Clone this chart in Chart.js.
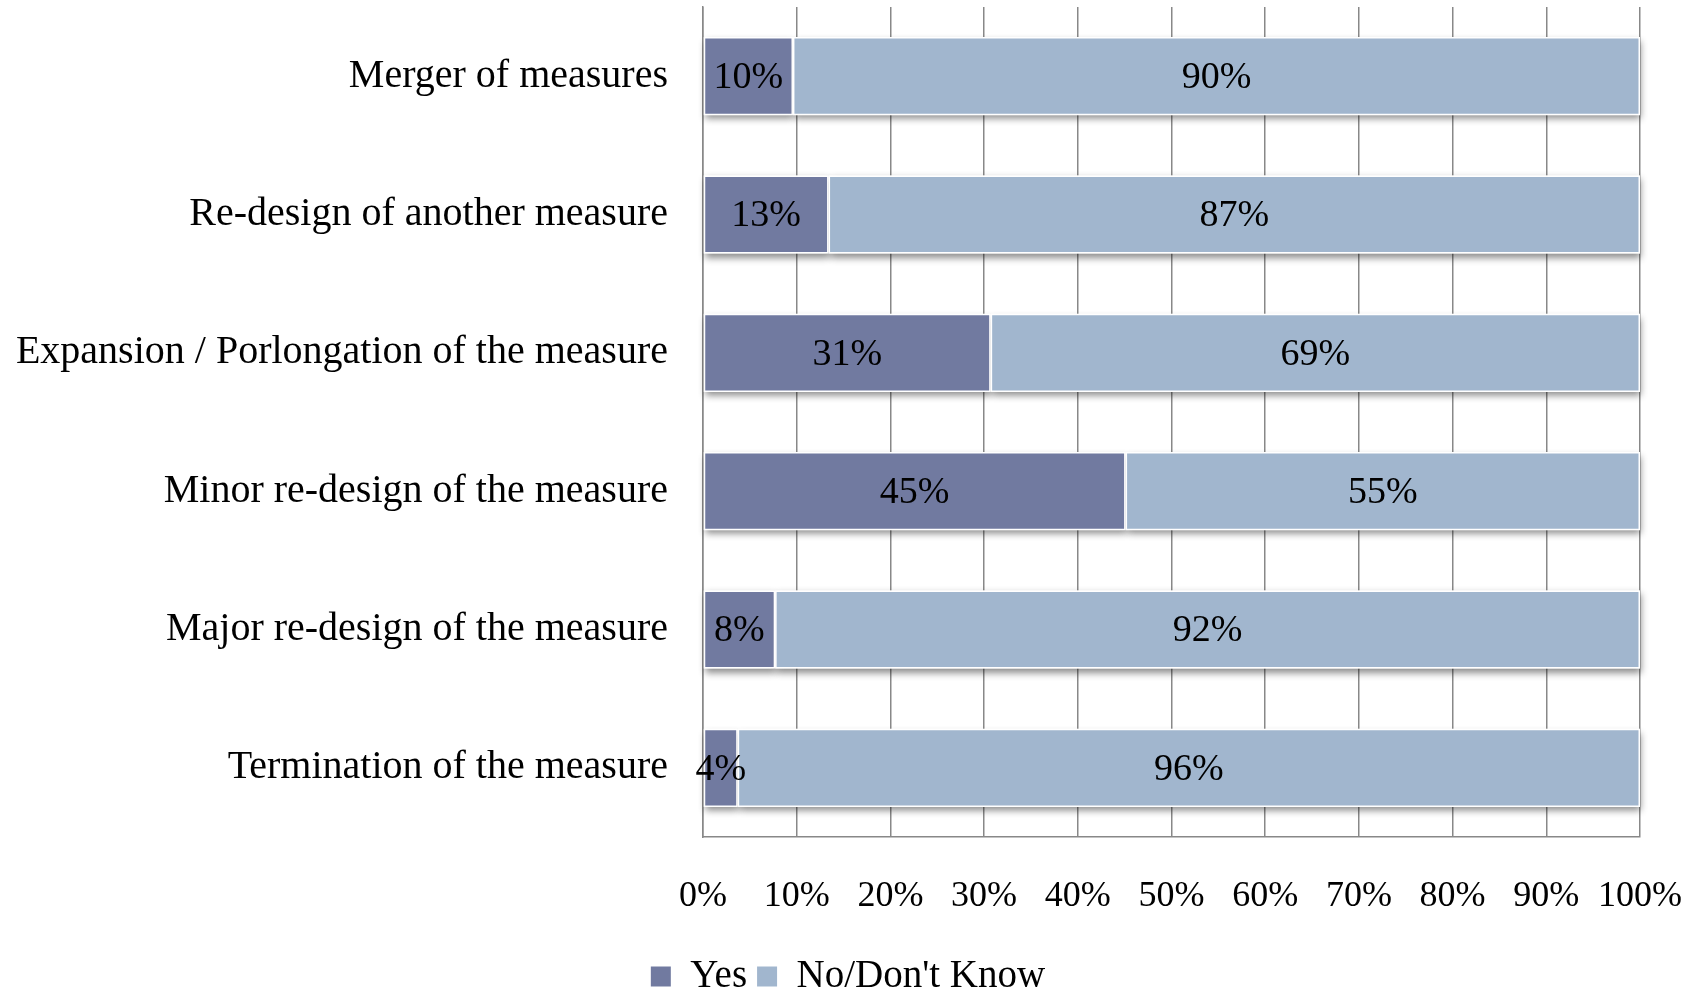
<!DOCTYPE html>
<html>
<head>
<meta charset="utf-8">
<script src="https://cdn.jsdelivr.net/npm/chart.js@4/dist/chart.umd.min.js"></script>
<style>
  html, body { margin: 0; padding: 0; background: #ffffff; overflow: hidden; }
  #wrap { width: 1696px; height: 990px; overflow: hidden; }
  canvas { display: block; }
</style>
</head>
<body>
<div id="wrap"><canvas id="chart" width="1696" height="1006"></canvas></div>
<script>
const categories = [
  "Merger of measures",
  "Re-design of another measure",
  "Expansion / Porlongation of the measure",
  "Minor re-design of the measure",
  "Major re-design of the measure",
  "Termination of the measure"
];
const seriesNames = ["Yes", "No/Don't Know"];
const yesValues = [9.6, 13.4, 30.7, 45.1, 7.7, 3.7];
const noValues = [90.4, 86.6, 69.3, 54.9, 92.3, 96.3];
const xTickValues = [0, 10, 20, 30, 40, 50, 60, 70, 80, 90, 100];

const FONT = "'Liberation Serif', 'Times New Roman', serif";

const shadowPlugin = {
  id: 'barShadow',
  beforeDatasetsDraw(chart) {
    const ctx = chart.ctx;
    ctx.save();
    ctx.shadowColor = 'rgba(0,0,0,0.45)';
    ctx.shadowBlur = 7;
    ctx.shadowOffsetX = 1;
    ctx.shadowOffsetY = 4;
    ctx.fillStyle = '#ffffff';
    chart.data.datasets.forEach((ds, i) => {
      const meta = chart.getDatasetMeta(i);
      meta.data.forEach(el => {
        const p = el.getProps(['x', 'y', 'base', 'height'], true);
        const left = Math.min(p.x, p.base);
        const w = Math.abs(p.x - p.base);
        ctx.fillRect(left, p.y - p.height / 2, w, p.height);
      });
    });
    ctx.restore();
  }
};

const labelPlugin = {
  id: 'barLabels',
  afterDatasetsDraw(chart) {
    const ctx = chart.ctx;
    ctx.save();
    ctx.font = "38px " + FONT;
    ctx.fillStyle = '#000000';
    ctx.textAlign = 'center';
    ctx.textBaseline = 'middle';
    chart.data.datasets.forEach((ds, i) => {
      const meta = chart.getDatasetMeta(i);
      meta.data.forEach((el, j) => {
        const c = el.getCenterPoint();
        ctx.fillText(Math.round(ds.data[j]) + '%', c.x, c.y + 2);
      });
    });
    ctx.restore();
  }
};

new Chart(document.getElementById('chart'), {
  type: 'bar',
  data: {
    labels: categories,
    datasets: [
      {
        label: seriesNames[0],
        data: yesValues,
        backgroundColor: '#717aa0',
        borderColor: '#ffffff',
        borderWidth: 1.5,
        borderSkipped: false,
        categoryPercentage: 1,
        barPercentage: 0.565
      },
      {
        label: seriesNames[1],
        data: noValues,
        backgroundColor: '#a1b6ce',
        borderColor: '#ffffff',
        borderWidth: 1.5,
        borderSkipped: false,
        categoryPercentage: 1,
        barPercentage: 0.565
      }
    ]
  },
  options: {
    indexAxis: 'y',
    responsive: false,
    animation: false,
    layout: { padding: { left: 0, right: 0, top: 7, bottom: 0 } },
    scales: {
      x: {
        stacked: true,
        min: 0,
        max: 100,
        afterBuildTicks(axis) { axis.ticks = xTickValues.map(v => ({ value: v })); },
        afterFit(axis) {
          axis.height = 110;
          axis.paddingLeft = 0; axis.paddingRight = 56;
          axis.paddingTop = 0; axis.paddingBottom = 0;
        },
        ticks: {
          callback: v => v + '%',
          font: { family: FONT, size: 36 },
          color: '#000000',
          padding: 38,
          maxRotation: 0,
          autoSkip: false
        },
        grid: { color: '#888888', lineWidth: 1.5, drawTicks: false },
        border: { display: true, color: '#888888', width: 1.5 }
      },
      y: {
        stacked: true,
        afterFit(axis) {
          axis.width = 703;
          axis.paddingTop = 0; axis.paddingBottom = 0;
          axis.paddingLeft = 0; axis.paddingRight = 0;
        },
        ticks: {
          font: { family: FONT, size: 40 },
          color: '#000000',
          padding: 35,
          autoSkip: false
        },
        grid: { display: false, drawTicks: false },
        border: { display: true, color: '#888888', width: 1.5 }
      }
    },
    plugins: {
      tooltip: { enabled: false },
      legend: {
        position: 'bottom',
        labels: {
          font: { family: FONT, size: 39 },
          color: '#000000',
          boxWidth: 20,
          boxHeight: 20,
          padding: 10,
          generateLabels(chart) {
            const items = Chart.defaults.plugins.legend.labels.generateLabels(chart);
            items.forEach(it => { it.lineWidth = 0; it.strokeStyle = 'rgba(0,0,0,0)'; });
            return items;
          }
        }
      }
    }
  },
  plugins: [shadowPlugin, labelPlugin]
});
</script>
</body>
</html>
